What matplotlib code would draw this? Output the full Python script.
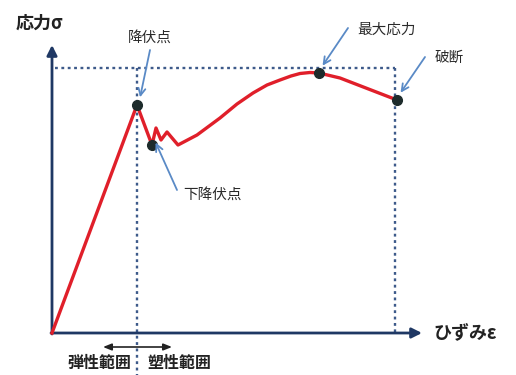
import matplotlib
matplotlib.use("Agg")
import matplotlib.pyplot as plt

plt.rcParams['font.family'] = ['Noto Sans CJK JP', 'DejaVu Sans']

# Stress-strain curve (arbitrary units)
strain = [0.0, 8.5, 10.0, 10.4, 10.9, 11.5, 12.6, 14.5, 16.8, 18.5, 20.1, 21.5, 22.8, 23.9, 24.8, 25.8, 26.7, 28.8, 34.5]
stress = [0.0, 22.8, 18.8, 20.5, 19.3, 20.1, 18.8, 19.8, 21.5, 22.9, 24.0, 24.8, 25.3, 25.7, 25.95, 26.05, 26.0, 25.5, 23.3]

# Key points
pt_names = ["降伏点", "下降伏点", "最大応力", "破断"]
pt_strain = [8.5, 10.0, 26.7, 34.5]
pt_stress = [22.8, 18.8, 26.0, 23.3]
label_pos = [(9.8, 29.5), (16.0, 13.8), (33.5, 30.3), (39.7, 27.5)]
arrow_start = [(9.8, 28.3), (12.5, 14.3), (29.6, 30.5), (37.3, 27.6)]

x_label = "ひずみε"
y_label = "応力σ"
range_labels = ["弾性範囲", "塑性範囲"]

fig = plt.figure(figsize=(5.16, 3.75), dpi=100)
ax = fig.add_axes([0, 0, 1, 1])
ax.set_xlim(-5.2, 46.4)
ax.set_ylim(-4.2, 33.3)
ax.axis('off')

navy = '#1f3864'
red = '#e01f2a'
blue = '#5a8ac6'
dot_c = '#1d2b2b'
dotted = '#3d5a8a'

y_ref = 26.5
# dotted reference lines
ax.plot([0.3, 34.3], [y_ref, y_ref], ls=(0, (1.2, 1.5)), color=dotted, lw=1.7, zorder=1)
ax.plot([pt_strain[0], pt_strain[0]], [y_ref, -4.2], ls=(0, (1.2, 1.5)), color=dotted, lw=1.7, zorder=1)
ax.plot([34.3, 34.3], [y_ref, 0], ls=(0, (1.2, 1.5)), color=dotted, lw=1.7, zorder=1)

# axes arrows
ax.annotate('', xy=(0, 28.8), xytext=(0, -0.1),
            arrowprops=dict(arrowstyle='-|>,head_length=0.6,head_width=0.3', color=navy, lw=2.0, shrinkA=0, shrinkB=0))
ax.annotate('', xy=(37.0, 0), xytext=(-0.1, 0),
            arrowprops=dict(arrowstyle='-|>,head_length=0.6,head_width=0.3', color=navy, lw=2.0, shrinkA=0, shrinkB=0))

# curve
ax.plot(strain, stress, color=red, lw=2.4, solid_joinstyle='round', zorder=3)
ax.plot(pt_strain, pt_stress, 'o', color=dot_c, ms=7, zorder=4)

# annotations
for name, (lx, ly), (sx, sy), px, py in zip(pt_names, label_pos, arrow_start, pt_strain, pt_stress):
    ax.annotate('', xy=(px + (0.25 if px < 20 else 0.2), py + 0.5), xytext=(sx, sy),
                arrowprops=dict(arrowstyle='->,head_length=0.5,head_width=0.25', color=blue, lw=1.3,
                                shrinkA=0, shrinkB=2), zorder=5)
    ax.text(lx, ly, name, fontsize=10.5, color='#2a2a2a', ha='center', va='center')

ax.text(-3.6, 31.0, y_label, fontsize=13, fontweight='bold', color='#222222', ha='left', va='center')
ax.text(38.1, 0.0, x_label, fontsize=13, fontweight='bold', color='#222222', ha='left', va='center')

# elastic / plastic range
ax.annotate('', xy=(5.1, -1.4), xytext=(12.0, -1.4),
            arrowprops=dict(arrowstyle='<|-|>,head_length=0.5,head_width=0.2', color='#222222', lw=1.2,
                            shrinkA=0, shrinkB=0))
ax.text(7.9, -3.0, range_labels[0], fontsize=11.5, fontweight='bold', color='#222222', ha='right', va='center')
ax.text(9.5, -3.0, range_labels[1], fontsize=11.5, fontweight='bold', color='#222222', ha='left', va='center')

fig.savefig('out.png', dpi=100, facecolor='white')
